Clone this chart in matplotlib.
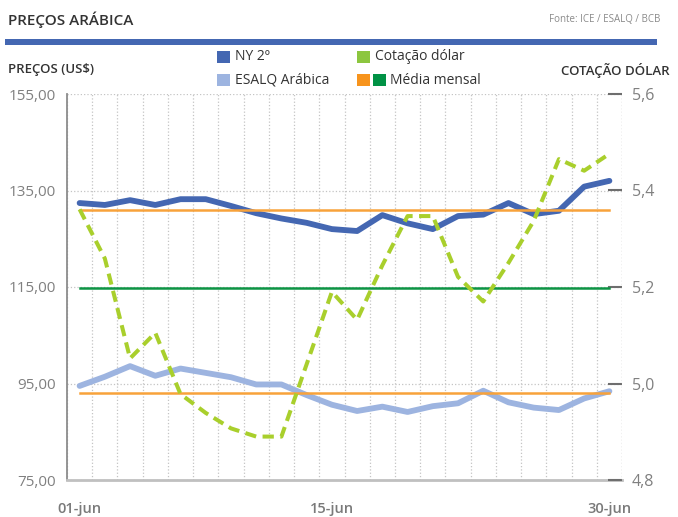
import numpy as np
import matplotlib
matplotlib.use('Agg')
import matplotlib.pyplot as plt
from matplotlib.patches import Rectangle

plt.rcParams['font.family'] = ['Open Sans', 'DejaVu Sans']

# dias úteis de junho
dias = ['01-jun', '02-jun', '03-jun', '04-jun', '05-jun', '08-jun', '09-jun', '10-jun',
        '11-jun', '12-jun', '15-jun', '16-jun', '17-jun', '18-jun', '19-jun', '22-jun',
        '23-jun', '24-jun', '25-jun', '26-jun', '29-jun', '30-jun']
rotulos_x = ['01-jun', '15-jun', '30-jun']

ny = [132.4, 132.0, 133.0, 132.0, 133.2, 133.2, 131.8, 130.3, 129.2, 128.3, 127.0,
      126.6, 129.9, 128.2, 127.0, 129.7, 130.0, 132.4, 130.1, 130.8, 135.8, 137.0]
esalq = [94.5, 96.4, 98.6, 96.6, 98.1, 97.2, 96.3, 94.8, 94.8, 92.6, 90.6,
         89.3, 90.2, 89.1, 90.3, 90.9, 93.5, 91.1, 90.0, 89.5, 91.9, 93.4]
dolar = [5.361, 5.259, 5.052, 5.105, 4.978, 4.939, 4.907, 4.890, 4.890, 5.040, 5.190,
         5.132, 5.245, 5.347, 5.347, 5.221, 5.170, 5.250, 5.337, 5.465, 5.441, 5.476]

media_ny = 131.0
media_esalq = 93.0
media_dolar = 5.197

c_ny = '#4467b2'
c_esalq = '#9db4e0'
c_dolar = '#a9cf2c'
c_laranja = '#f8a23a'
c_verde = '#0c9444'

W, H = 678, 517
fig = plt.figure(figsize=(W / 100, H / 100), dpi=100)


def px(x, y):
    return x / W, 1 - y / H


ax = fig.add_axes([67 / W, 1 - 480 / H, (622 - 67) / W, (480 - 94) / H])
x = np.arange(len(dias))

ax.plot(x, ny, color=c_ny, lw=4.2, solid_capstyle='round', zorder=3)
ax.plot(x, esalq, color=c_esalq, lw=4.2, solid_capstyle='round', zorder=3)
ax.plot([x[0], x[-1]], [media_ny, media_ny], color=c_laranja, lw=1.8, zorder=4)
ax.plot([x[0], x[-1]], [media_esalq, media_esalq], color=c_laranja, lw=1.8, zorder=4)

ax.set_xlim(-0.5, len(dias) - 0.5)
ax.set_ylim(75, 155)
ax.set_yticks([75, 95, 115, 135, 155])
ax.set_yticklabels(['75,00', '95,00', '115,00', '135,00', '155,00'])
ax.set_xticks([dias.index(d) for d in rotulos_x])
ax.set_xticklabels(rotulos_x)
ax.set_xticks(np.arange(-0.5, len(dias), 1), minor=True)
ax.grid(axis='y', which='major', linestyle=':', color='#c4c4c4', lw=0.9)
ax.grid(axis='x', which='minor', linestyle=':', color='#c4c4c4', lw=0.9)
ax.tick_params(axis='y', length=0, pad=8, labelsize=11, labelcolor='#808080')
ax.tick_params(axis='x', which='major', length=0, pad=16, labelsize=10.5, labelcolor='#7a7a7a')
ax.tick_params(axis='x', which='minor', length=0)
for t in ax.get_xticklabels():
    t.set_fontweight('semibold')
for s in ['top', 'right']:
    ax.spines[s].set_visible(False)
ax.spines['left'].set_color('#8c8c8c')
ax.spines['left'].set_linewidth(1.3)
ax.spines['bottom'].set_color('#c0c0c0')
ax.spines['bottom'].set_linewidth(2)
ax.set_axisbelow(True)

ax2 = ax.twinx()
ax2.plot([x[0], x[-1]], [media_dolar, media_dolar], color=c_verde, lw=1.8, zorder=4)
ax2.plot(x, dolar, color=c_dolar, lw=2.9, dashes=(2.8, 1.6), zorder=5)
ax2.set_ylim(4.8, 5.6)
ax2.set_yticks([4.8, 5.0, 5.2, 5.4, 5.6])
ax2.set_yticklabels(['4,8', '5,0', '5,2', '5,4', '5,6'])
ax2.tick_params(axis='y', direction='in', length=10, width=1.5, color='#6e6e6e',
                pad=7, labelsize=11.5, labelcolor='#808080')
for s in ['top', 'right', 'left', 'bottom']:
    ax2.spines[s].set_visible(False)
ax2.axvline(len(dias) - 0.5, linestyle=':', color='#c4c4c4', lw=0.9)

# cabeçalho
fig.text(*px(8, 20), 'PREÇOS ARÁBICA', fontsize=11, fontweight='semibold',
         color='#333333', va='center', ha='left')
fig.text(*px(660, 20), 'Fonte: ICE / ESALQ / BCB', fontsize=7, color='#8a8a8a',
         va='center', ha='right')
fig.add_artist(Rectangle(px(5, 45), (657 - 5) / W, 6 / H, transform=fig.transFigure,
                         color=c_ny, lw=0))
fig.text(*px(8, 70), 'PREÇOS (US$)', fontsize=9.5, fontweight='semibold',
         color='#333333', va='center', ha='left')
fig.text(*px(670, 70), 'COTAÇÃO DÓLAR', fontsize=9.5, fontweight='semibold',
         color='#333333', va='center', ha='right')

# legenda
def quadrado(x0, yc, cor):
    fig.add_artist(Rectangle(px(x0, yc + 6), 13 / W, 12 / H, transform=fig.transFigure,
                             color=cor, lw=0))

quadrado(217, 57, c_ny)
fig.text(*px(235, 57), 'NY 2º', fontsize=10, color='#333333', va='center', ha='left')
quadrado(357, 57, '#8cc63f')
fig.text(*px(375, 57), 'Cotação dólar', fontsize=10, color='#333333', va='center', ha='left')
quadrado(217, 80, c_esalq)
fig.text(*px(235, 80), 'ESALQ Arábica', fontsize=10, color='#333333', va='center', ha='left')
quadrado(357, 80, '#f7941d')
quadrado(373, 80, '#009245')
fig.text(*px(390, 80), 'Média mensal', fontsize=10, color='#333333', va='center', ha='left')

fig.savefig('out.png', dpi=100)
